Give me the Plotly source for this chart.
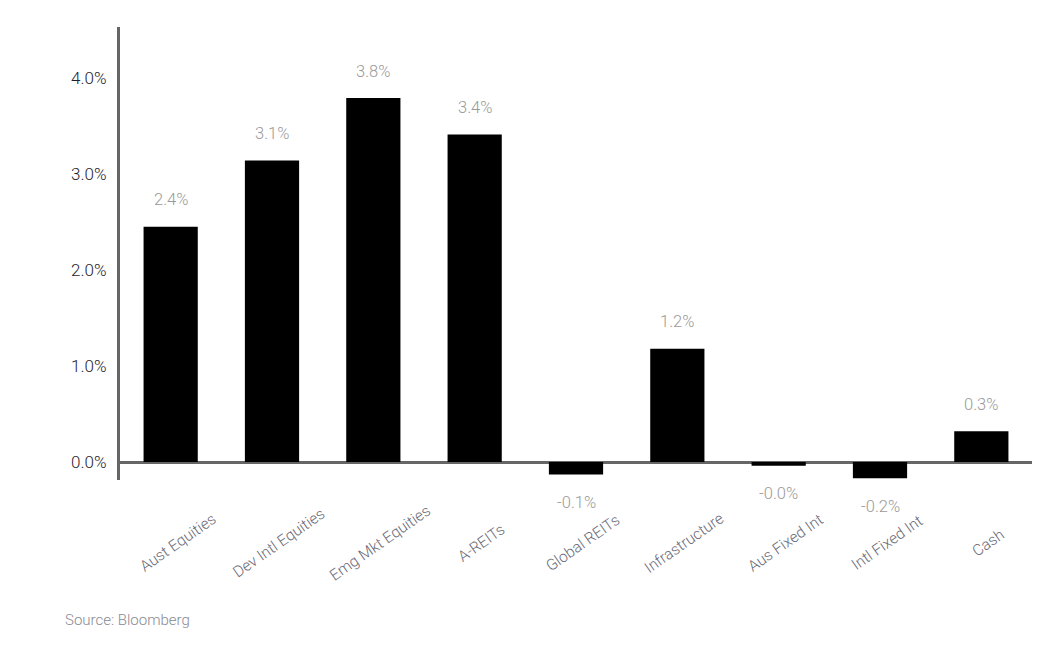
import plotly.graph_objects as go

categories = ["Aust Equities", "Dev Intl Equities", "Emg Mkt Equities", "A-REITs",
              "Global REITs", "Infrastructure", "Aus Fixed Int", "Intl Fixed Int", "Cash"]
values = [2.45, 3.14, 3.79, 3.41, -0.13, 1.18, -0.04, -0.17, 0.32]
value_labels = ["2.4%", "3.1%", "3.8%", "3.4%", "-0.1%", "1.2%", "-0.0%", "-0.2%", "0.3%"]
tick_vals = [0, 1, 2, 3, 4]
tick_text = ["0.0%", "1.0%", "2.0%", "3.0%", "4.0%"]
source_text = "Source: Bloomberg"

FONT = "Roboto"
W, H = 1050, 640
L, R, T, B = 112, 26, 19, 168
PW, PH = W - L - R, H - T - B

fig = go.Figure(go.Bar(
    x=categories, y=values,
    marker=dict(color="#000000", line=dict(width=0)),
    width=0.535,
    hoverinfo="skip",
))

annotations = []
for c, v, t in zip(categories, values, value_labels):
    annotations.append(dict(
        x=c, y=v, xref="x", yref="y", text=t, showarrow=False,
        yshift=27 if v >= 0 else -28,
        font=dict(family=FONT, size=16.5, color="#9a9a9a", weight=300),
    ))
for c in categories:
    annotations.append(dict(
        x=c, y=0, xref="x", yref="paper", text=c, showarrow=False,
        textangle=-35, xanchor="center", yanchor="middle",
        xshift=7, yshift=-63,
        font=dict(family=FONT, size=15.5, color="#6a6a78", weight=300),
    ))
annotations.append(dict(
    x=(55 - L) / PW, y=-(612 - (T + PH)) / PH, xref="paper", yref="paper",
    text=source_text, showarrow=False, xanchor="left", yanchor="middle",
    font=dict(family=FONT, size=15, color="#8a8a96", weight=300),
))

fig.update_layout(
    width=W, height=H,
    margin=dict(l=L, r=R, t=T, b=B),
    paper_bgcolor="white", plot_bgcolor="white",
    showlegend=False,
    bargap=0.465,
    annotations=annotations,
    xaxis=dict(showticklabels=False, showgrid=False, zeroline=False, showline=False,
               ticks="", range=[-0.5, 8.5]),
    yaxis=dict(range=[-0.1875, 4.53], tickvals=tick_vals, ticktext=tick_text,
               showgrid=False, zeroline=True, zerolinecolor="#666666", zerolinewidth=3,
               showline=True, linecolor="#666666", linewidth=3, ticks="",
               ticklabelstandoff=7,
               tickfont=dict(family=FONT, size=17, color="#1e1e2e", weight=300)),
)

fig.write_html("out.html")
